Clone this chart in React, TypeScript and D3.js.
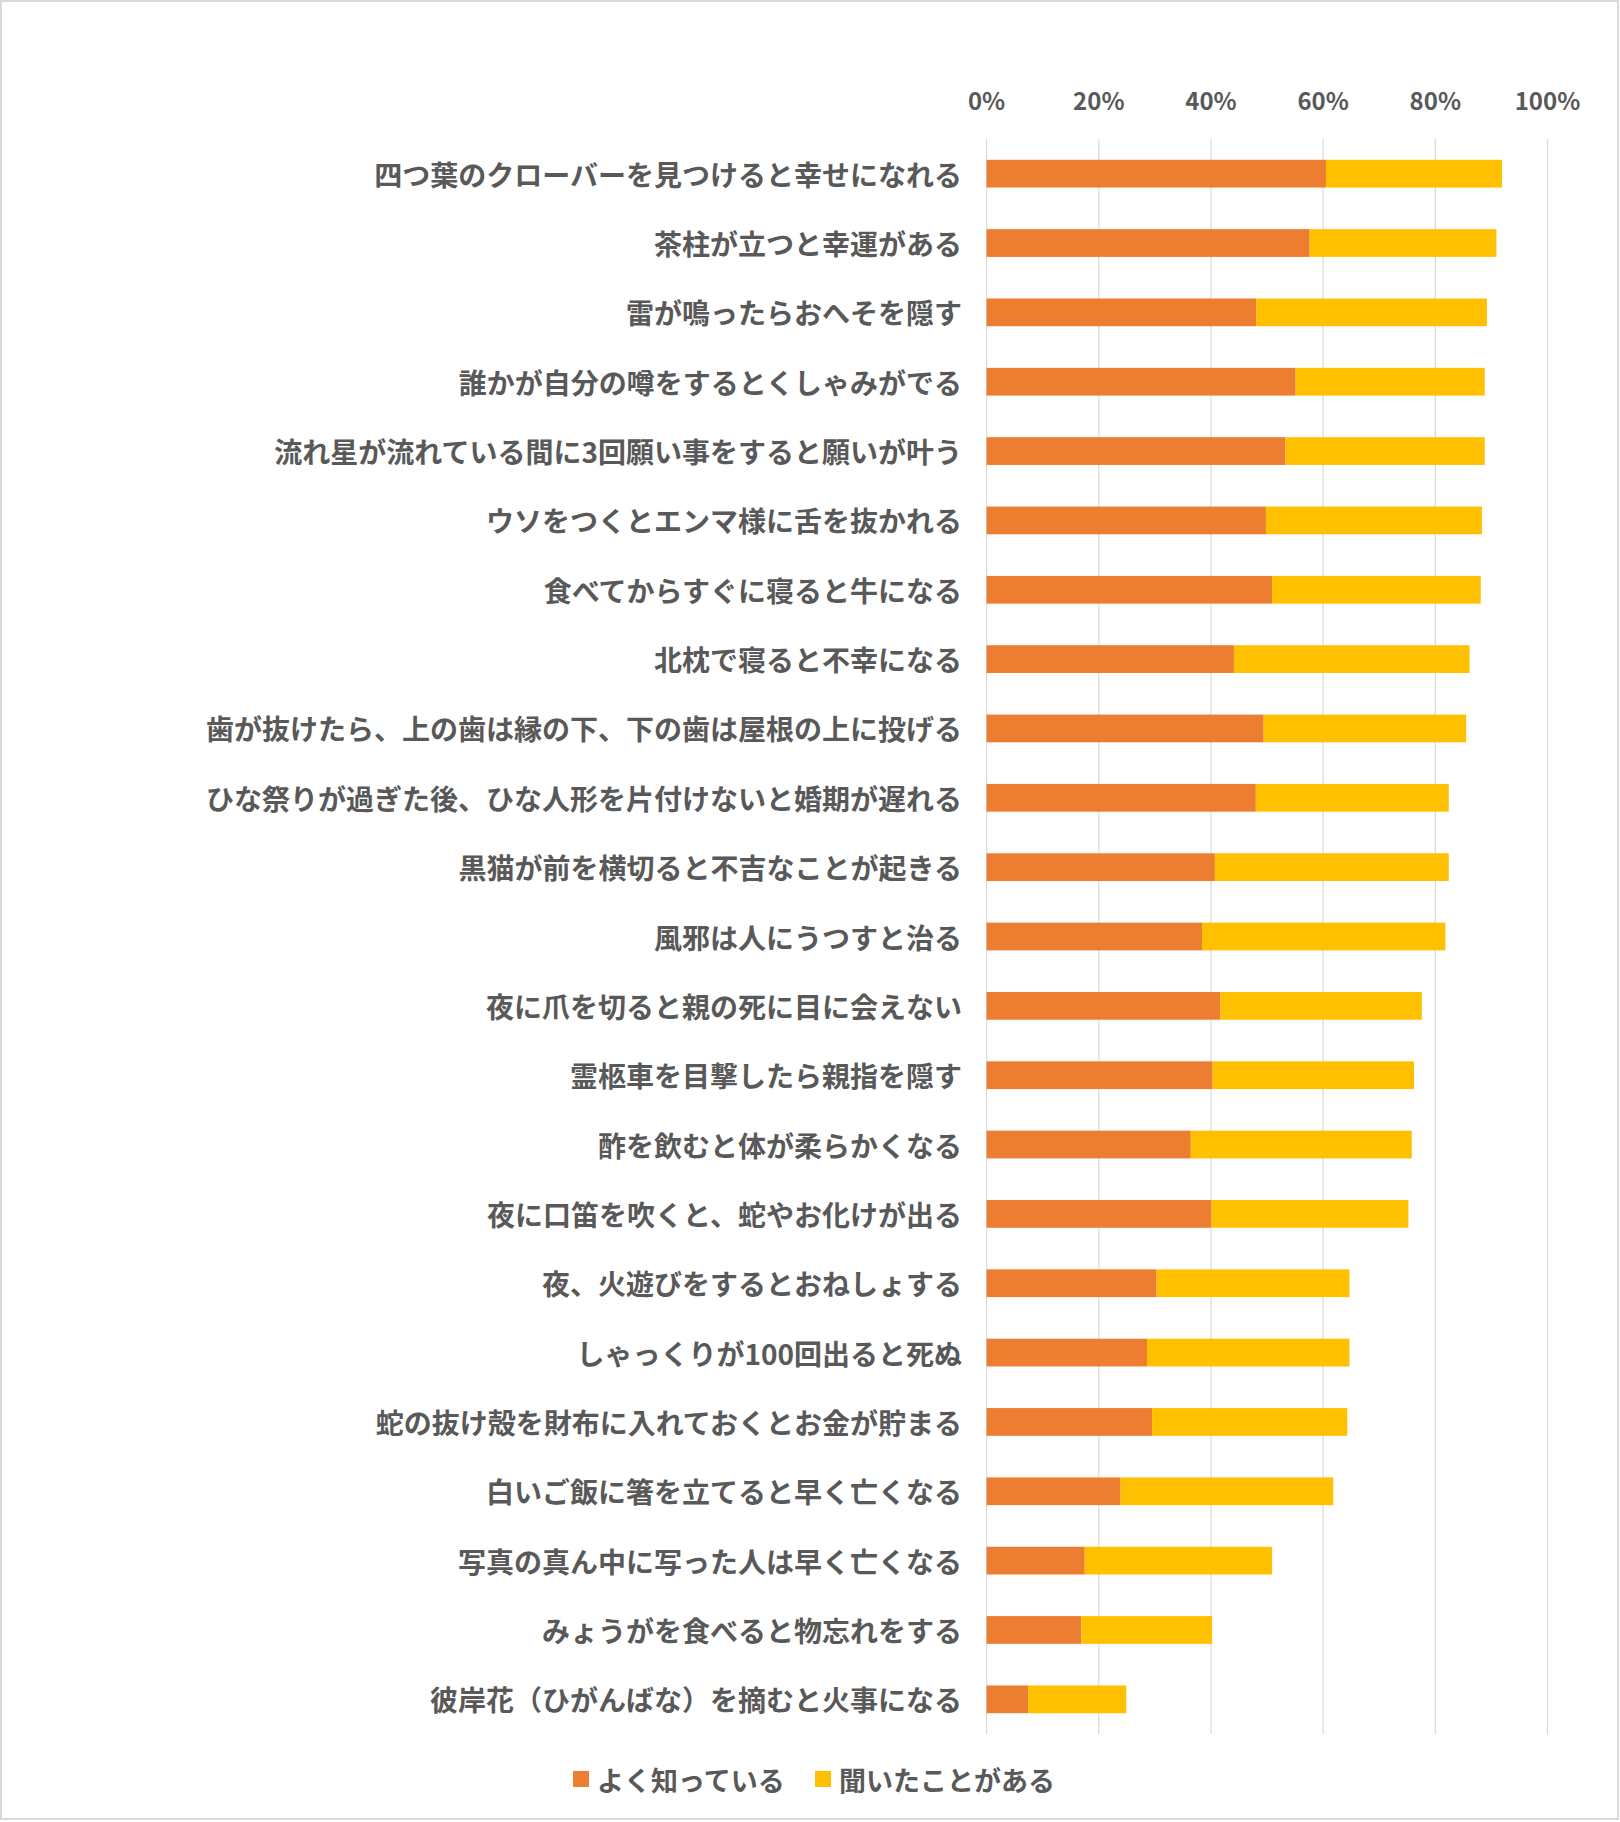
import React from "react";
import * as d3 from "d3";

const categories: string[] = [
  "四つ葉のクローバーを見つけると幸せになれる",
  "茶柱が立つと幸運がある",
  "雷が鳴ったらおへそを隠す",
  "誰かが自分の噂をするとくしゃみがでる",
  "流れ星が流れている間に3回願い事をすると願いが叶う",
  "ウソをつくとエンマ様に舌を抜かれる",
  "食べてからすぐに寝ると牛になる",
  "北枕で寝ると不幸になる",
  "歯が抜けたら、上の歯は縁の下、下の歯は屋根の上に投げる",
  "ひな祭りが過ぎた後、ひな人形を片付けないと婚期が遅れる",
  "黒猫が前を横切ると不吉なことが起きる",
  "風邪は人にうつすと治る",
  "夜に爪を切ると親の死に目に会えない",
  "霊柩車を目撃したら親指を隠す",
  "酢を飲むと体が柔らかくなる",
  "夜に口笛を吹くと、蛇やお化けが出る",
  "夜、火遊びをするとおねしょする",
  "しゃっくりが100回出ると死ぬ",
  "蛇の抜け殻を財布に入れておくとお金が貯まる",
  "白いご飯に箸を立てると早く亡くなる",
  "写真の真ん中に写った人は早く亡くなる",
  "みょうがを食べると物忘れをする",
  "彼岸花（ひがんばな）を摘むと火事になる",
];

const wellKnown: number[] = [
  60.5, 57.6, 48.1, 55.1, 53.3, 49.8, 50.9, 44.1, 49.4, 48.0, 40.7, 38.4,
  41.7, 40.3, 36.4, 40.1, 30.3, 28.6, 29.5, 23.9, 17.5, 16.9, 7.4,
];

const heard: number[] = [
  31.4, 33.3, 41.1, 33.7, 35.5, 38.5, 37.2, 42.0, 36.1, 34.4, 41.7, 43.4,
  35.9, 35.9, 39.4, 35.1, 34.4, 36.1, 34.8, 37.9, 33.4, 23.3, 17.5,
];

const seriesNames: string[] = ["よく知っている", "聞いたことがある"];
const seriesColors: string[] = ["#ED7D31", "#FFC000"];
const tickValues: number[] = [0, 20, 40, 60, 80, 100];

export default function App() {
  const W = 1620;
  const H = 1822;
  const x = d3.scaleLinear().domain([0, 100]).range([986.6, 1547.5]);
  const y = d3
    .scaleBand<string>()
    .domain(categories)
    .range([139, 1734])
    .paddingInner(0.6)
    .paddingOuter(0.3);

  const rows = categories.map((c, i) => ({ cat: c, a: wellKnown[i], b: heard[i] }));
  const stack = d3.stack<any>().keys(["a", "b"])(rows as any);

  const textColor = "#595959";
  const jp = "'Noto Sans CJK JP', 'Noto Sans', sans-serif";

  return (
    <svg
      width={W}
      height={H}
      style={{ position: "absolute", left: 0, top: 0, background: "#fff" }}
    >
      <rect x={1} y={1} width={W - 3} height={H - 4} fill="#fff" stroke="#D9D9D9" strokeWidth={2} />
      {tickValues.map((t) => (
        <g key={t}>
          <line x1={x(t)} x2={x(t)} y1={139} y2={1734} stroke="#D9D9D9" strokeWidth={1.2} />
          <text
            x={x(t)}
            y={99}
            textAnchor="middle"
            dominantBaseline="central"
            fontFamily={jp}
            fontWeight={700}
            fontSize={24}
            fill={textColor}
          >
            {t}%
          </text>
        </g>
      ))}
      {stack.map((s, si) => (
        <g key={si} fill={seriesColors[si]}>
          {s.map((d: any, i: number) => (
            <rect
              key={i}
              x={x(d[0])}
              y={y(categories[i])}
              width={x(d[1]) - x(d[0])}
              height={y.bandwidth()}
            />
          ))}
        </g>
      ))}
      {categories.map((c) => (
        <text
          key={c}
          x={962}
          y={(y(c) as number) + y.bandwidth() / 2}
          textAnchor="end"
          dominantBaseline="central"
          fontFamily={jp}
          fontWeight={700}
          fontSize={28}
          fill={textColor}
        >
          {c}
        </text>
      ))}
      {seriesNames.map((n, i) => {
        const sx = [573, 815][i];
        return (
          <g key={n}>
            <rect x={sx} y={1771} width={16} height={16} fill={seriesColors[i]} />
            <text
              x={sx + 24}
              y={1779}
              dominantBaseline="central"
              fontFamily={jp}
              fontWeight={700}
              fontSize={27}
              fill={textColor}
            >
              {n}
            </text>
          </g>
        );
      })}
    </svg>
  );
}
